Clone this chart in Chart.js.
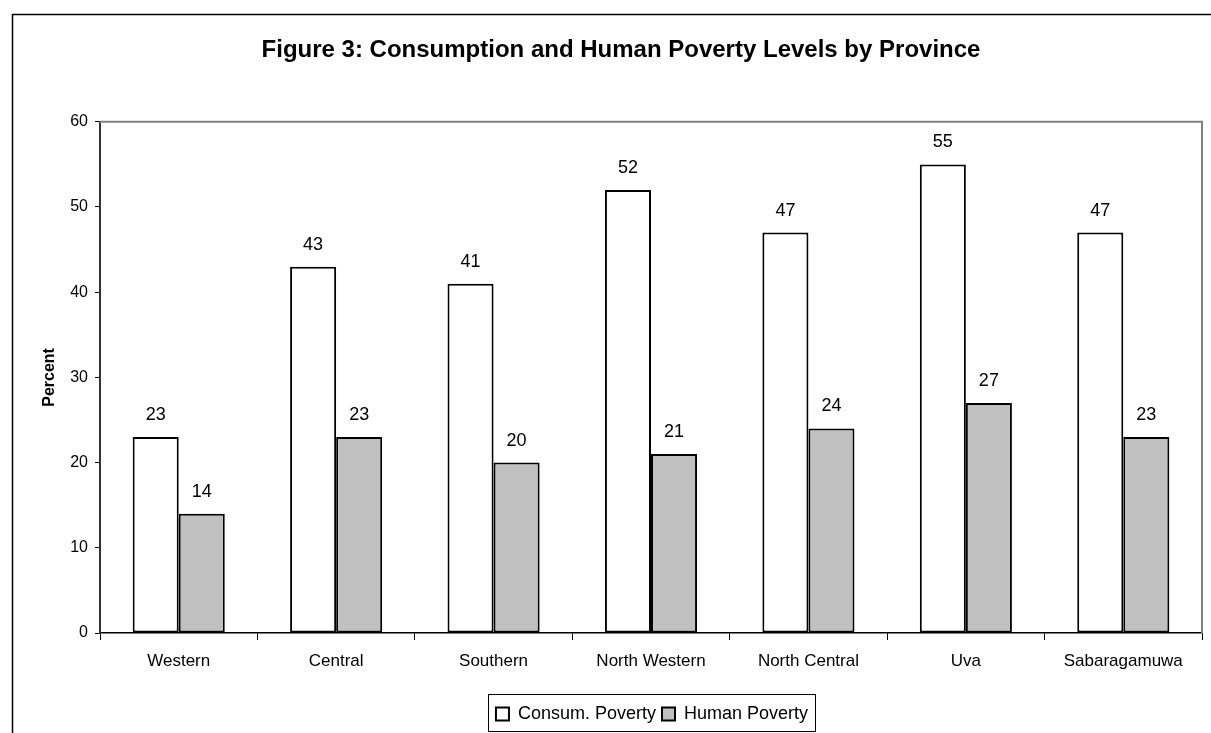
<!DOCTYPE html>
<html>
<head>
<meta charset="utf-8">
<title>Consumption and Human Poverty Levels by Province</title>
<script src="https://cdn.jsdelivr.net/npm/chart.js@4.4.0/dist/chart.umd.min.js"></script>
<style>
  html, body { margin: 0; padding: 0; background: #fff; }
  #wrap { width: 1211px; height: 733px; }
</style>
</head>
<body>
<div id="wrap"><canvas id="myChart" width="1211" height="733"></canvas></div>
<script>
// provinces and poverty levels (percent)
var provinces = ["Western", "Central", "Southern", "North Western", "North Central", "Uva", "Sabaragamuwa"];
var consumPoverty = [23, 43, 41, 52, 47, 55, 47];
var humanPoverty = [14, 23, 20, 21, 24, 27, 23];
var yTicks = [0, 10, 20, 30, 40, 50, 60];

var fontFam = "'Liberation Sans', Arial, sans-serif";

// legend frame position
var legBox = { x: 488.5, y: 694.5, w: 327, h: 37 };

// outer frame, grey border on top/right of plot area, legend placement
var framePlugin = {
  id: 'frame',
  beforeDraw: function(chart) {
    var c = chart.ctx;
    c.save();
    c.fillStyle = '#fff';
    c.fillRect(0, 0, chart.width, chart.height);
    c.strokeStyle = '#000';
    c.lineWidth = 1.5;
    c.beginPath();
    c.moveTo(12.5, chart.height);
    c.lineTo(12.5, 14.5);
    c.lineTo(chart.width, 14.5);
    c.stroke();
    c.restore();

    // center the legend inside its frame
    var l = chart.legend;
    var h = l.bottom - l.top;
    var mid = legBox.x + legBox.w / 2;
    var dx = mid - (l.left + l.right) / 2;
    l.left += dx;
    l.right += dx;
    l.top = chart.height - h;
    l.bottom = chart.height;
  },
  afterDatasetsDraw: function(chart) {
    var a = chart.chartArea;
    var c = chart.ctx;
    c.save();
    c.strokeStyle = '#808080';
    c.lineWidth = 2;
    c.beginPath();
    c.moveTo(a.left, a.top);
    c.lineTo(a.right, a.top);
    c.lineTo(a.right, a.bottom);
    c.stroke();
    c.restore();
  },
  afterDraw: function(chart) {
    var c = chart.ctx;
    c.save();
    c.strokeStyle = '#000';
    c.lineWidth = 1;
    c.strokeRect(legBox.x, legBox.y, legBox.w, legBox.h);
    c.restore();
  }
};

// value labels above each bar
var valuePlugin = {
  id: 'values',
  afterDatasetsDraw: function(chart) {
    var c = chart.ctx;
    c.save();
    c.font = '18px ' + fontFam;
    c.fillStyle = '#000';
    c.textAlign = 'center';
    c.textBaseline = 'middle';
    chart.data.datasets.forEach(function(ds, i) {
      chart.getDatasetMeta(i).data.forEach(function(bar, k) {
        c.fillText(String(ds.data[k]), bar.x, bar.y - 22);
      });
    });
    c.restore();
  }
};

var ctx = document.getElementById('myChart').getContext('2d');
var chart = new Chart(ctx, {
  type: 'bar',
  data: {
    labels: provinces,
    datasets: [{
      label: 'Consum. Poverty',
      data: consumPoverty,
      backgroundColor: '#ffffff',
      borderColor: '#000000',
      borderWidth: 2,
      borderSkipped: false
    }, {
      label: 'Human Poverty',
      data: humanPoverty,
      backgroundColor: '#c0c0c0',
      borderColor: '#000000',
      borderWidth: 2,
      borderSkipped: false
    }]
  },
  options: {
    responsive: false,
    animation: false,
    devicePixelRatio: 1,
    layout: { padding: { left: 40, right: 9, top: 0, bottom: 5 } },
    datasets: {
      bar: { categoryPercentage: 0.585, barPercentage: 1.0 }
    },
    plugins: {
      tooltip: { enabled: false },
      title: {
        display: true,
        text: 'Figure 3: Consumption and Human Poverty Levels by Province',
        color: '#000',
        font: { family: fontFam, size: 24, weight: 'bold', lineHeight: 1.2 },
        padding: { top: 36, bottom: 57 }
      },
      legend: {
        display: true,
        position: 'bottom',
        labels: {
          color: '#000',
          font: { family: fontFam, size: 18 },
          boxWidth: 13,
          boxHeight: 13,
          padding: 6
        }
      }
    },
    scales: {
      x: {
        offset: true,
        grid: {
          offset: true,
          drawOnChartArea: false,
          drawTicks: true,
          tickLength: 7,
          color: '#000',
          lineWidth: 1
        },
        border: { color: '#000', width: 1.5 },
        ticks: {
          color: '#000',
          font: { family: fontFam, size: 17 },
          padding: 11,
          autoSkip: false,
          maxRotation: 0
        },
        afterFit: function(s) { s.height = 61; }
      },
      y: {
        min: 0,
        max: 60,
        afterBuildTicks: function(s) {
          s.ticks = yTicks.map(function(v) { return { value: v }; });
        },
        grid: {
          drawOnChartArea: false,
          drawTicks: true,
          tickLength: 5,
          color: '#000'
        },
        border: { color: '#333', width: 2 },
        ticks: {
          color: '#000',
          font: { family: fontFam, size: 16 },
          padding: 7
        },
        title: {
          display: true,
          text: 'Percent',
          color: '#000',
          font: { family: fontFam, size: 16, weight: 'bold' },
          padding: 0
        },
        afterFit: function(s) { s.width = 60; }
      }
    }
  },
  plugins: [framePlugin, valuePlugin]
});
</script>
</body>
</html>
